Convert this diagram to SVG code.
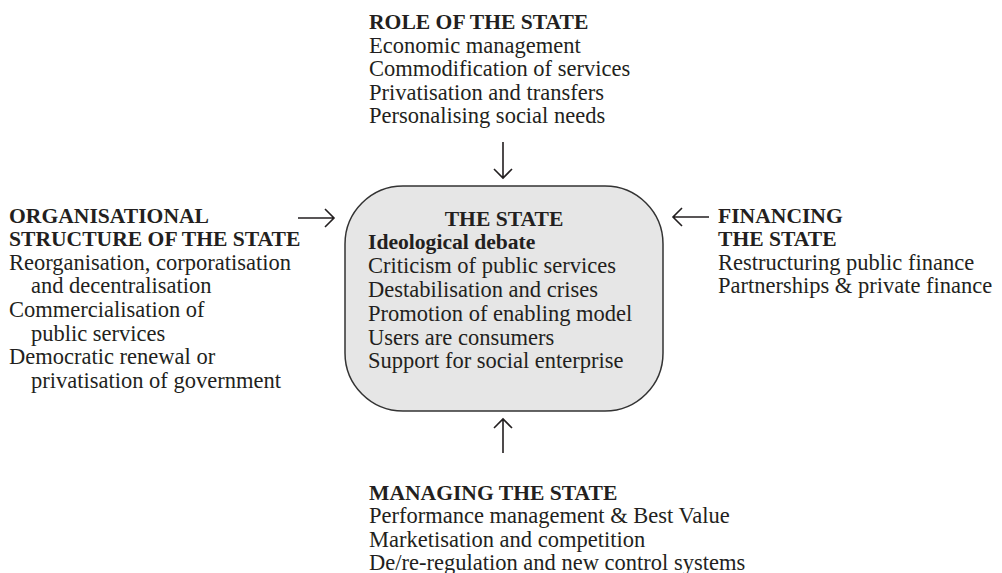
<svg xmlns="http://www.w3.org/2000/svg" width="1002" height="573" viewBox="0 0 1002 573">
<style>
text{font-family:"Liberation Serif","Times New Roman",serif;font-size:22.5px;fill:#231f20}
.h{font-weight:bold;font-size:21.6px}
.arr{stroke:#231f20;stroke-width:1.6;fill:none}
</style>
<rect width="1002" height="573" fill="#fff"/>
<g id="connectors">
<path class="arr" d="M503 142V178M494 169L503 178L512 169"/>
<path class="arr" d="M503 453V419M494 428L503 419L512 428"/>
<path class="arr" d="M298 218H334M325 209L334 218L325 227"/>
<path class="arr" d="M709 217H673M682 208L673 217L682 226"/>
</g>
<g id="state">
<rect x="345" y="186" width="318" height="225" rx="58" ry="58" fill="#e6e6e6" stroke="#333" stroke-width="1.5"/>
<text class="h" x="504" y="226" text-anchor="middle">THE STATE</text>
<text class="h" x="368" y="249">Ideological debate</text>
<text x="368" y="273">Criticism of public services</text>
<text x="368" y="297">Destabilisation and crises</text>
<text x="368" y="321">Promotion of enabling model</text>
<text x="368" y="345">Users are consumers</text>
<text x="368" y="368">Support for social enterprise</text>
</g>
<g id="role">
<text class="h" x="369" y="29">ROLE OF THE STATE</text>
<text x="369" y="52.5">Economic management</text>
<text x="369" y="76">Commodification of services</text>
<text x="369" y="99.5">Privatisation and transfers</text>
<text x="369" y="123">Personalising social needs</text>
</g>
<g id="organisational">
<text class="h" x="9" y="223">ORGANISATIONAL</text>
<text class="h" x="9" y="246">STRUCTURE OF THE STATE</text>
<text x="9" y="270">Reorganisation, corporatisation</text>
<text x="31" y="293">and decentralisation</text>
<text x="9" y="317">Commercialisation of</text>
<text x="31" y="341">public services</text>
<text x="9" y="364">Democratic renewal or</text>
<text x="31" y="388">privatisation of government</text>
</g>
<g id="financing">
<text class="h" x="718" y="223">FINANCING</text>
<text class="h" x="718" y="246">THE STATE</text>
<text x="718" y="270">Restructuring public finance</text>
<text x="718" y="293">Partnerships &amp; private finance</text>
</g>
<g id="managing">
<text class="h" x="369" y="500">MANAGING THE STATE</text>
<text x="369" y="523">Performance management &amp; Best Value</text>
<text x="369" y="547">Marketisation and competition</text>
<text x="369" y="570">De/re-regulation and new control systems</text>
</g>
</svg>
